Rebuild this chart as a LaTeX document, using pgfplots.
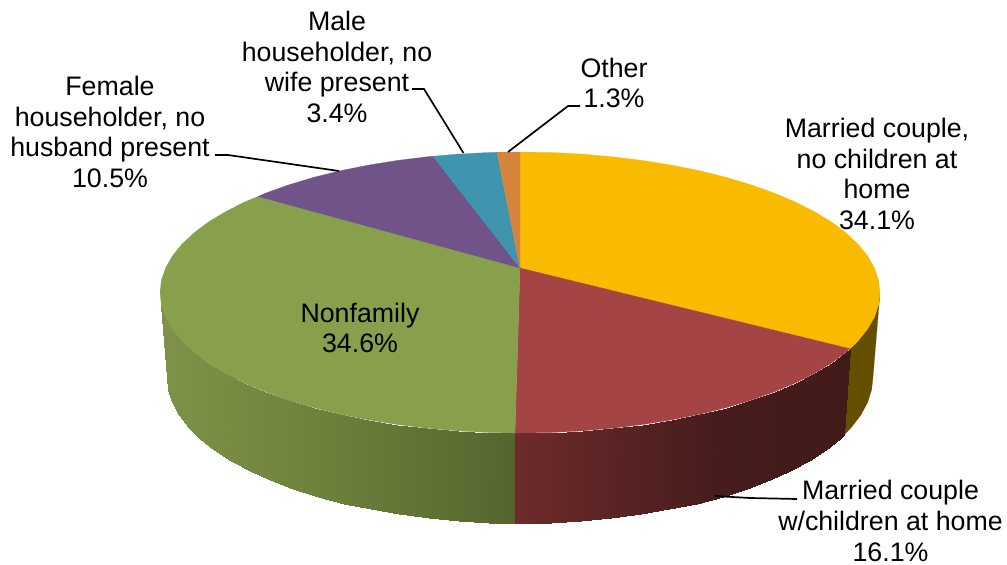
\documentclass[border=0pt]{standalone}
\usepackage{fontspec}
\setmainfont{Liberation Sans}
\usepackage{pgfplots}
\pgfplotsset{compat=1.18}
\usepackage{pgfplotstable}
\definecolor{cy}{RGB}{248,187,0}
\definecolor{cr}{RGB}{165,68,68}
\definecolor{cg}{RGB}{136,159,76}
\definecolor{cp}{RGB}{111,83,137}
\definecolor{ct}{RGB}{63,148,174}
\definecolor{co}{RGB}{214,132,60}
\definecolor{cyw}{RGB}{100,78,0}
\pgfplotsset{colormap={wall}{rgb255(160pt)=(127,146,72); rgb255(300pt)=(112,132,62); rgb255(515pt)=(84,102,46); rgb255(516pt)=(110,43,43); rgb255(720pt)=(70,28,28); rgb255(860pt)=(66,26,26)}}
\pgfplotstableread{
x y
515 433
520 433
551.4 432.5
582.5 430.9
613.2 428.2
643.1 424.5
672.1 419.8
700 414.2
726.5 407.6
751.4 400.1
774.6 391.8
795.8 382.8
814.9 373.1
831.8 362.8
846.3 351.9
850 348.7
515 523
520 523
550.8 522.5
581.3 520.8
611.4 518
640.7 514.2
669.1 509.3
696.5 503.5
722.5 496.6
746.9 488.8
769.7 480.2
790.4 470.8
809.2 460.8
825.7 450
840 438.7
843.6 435.4
}\redwall
\pgfplotstableread{
x y
160 292.5
161.4 304.7
165.5 316.9
172.3 328.9
181.7 340.6
193.7 351.9
208.2 362.8
225.1 373.1
244.2 382.8
265.4 391.8
288.6 400.1
313.5 407.6
340 414.2
367.9 419.8
396.9 424.5
426.8 428.2
457.5 430.9
488.6 432.5
515 433
167 377
168.4 389.7
172.4 402.4
179 414.8
188.3 427
200 438.7
214.3 450
230.8 460.8
249.6 470.8
270.3 480.2
293.1 488.8
317.5 496.6
343.5 503.5
370.9 509.3
399.3 514.2
428.6 518
458.7 520.8
489.2 522.5
515 523
}\greenwall
\begin{document}
\begin{tikzpicture}
\useasboundingbox (0,0) rectangle (1007pt,565pt);
\begin{axis}[at={(0,0)},anchor=south west,scale only axis,width=1007pt,height=565pt,
  xmin=0,xmax=1007,ymin=0,ymax=565,y dir=reverse,hide axis,clip=false,
  colormap name=wall,point meta min=160,point meta max=860,
  nodes={font=\fontsize{26.75}{30.7}\selectfont,align=center,text=black}]
% side walls
\addplot[fill=cyw,draw=cyw,line width=0.2pt] coordinates {(880,292.5)(878.6,304.7)(874.5,316.9)(867.7,328.9)(858.3,340.6)(850,348.7)(843.6,435.4)(851.7,427)(861,414.8)(867.6,402.4)(871.6,389.7)(873,377)} --cycle;
\addplot[surf,shader=interp,mesh/rows=2,point meta={x}] table[x=x,y=y] {\greenwall};
\addplot[surf,shader=interp,mesh/rows=2,point meta={x+1}] table[x=x,y=y] {\redwall};
% top face
\addplot[fill=cy,draw=cy,line width=0.2pt] coordinates {(520,268)(520,152)(551.4,152.5)(582.5,154.1)(613.2,156.8)(643.1,160.5)(672.1,165.2)(700,170.8)(726.5,177.4)(751.4,184.9)(774.6,193.2)(795.8,202.2)(814.9,211.9)(831.8,222.2)(846.3,233.1)(858.3,244.4)(867.7,256.1)(874.5,268.1)(878.6,280.3)(880,292.5)(878.6,304.7)(874.5,316.9)(867.7,328.9)(858.3,340.6)(850,348.7)} --cycle;
\addplot[fill=cr,draw=cr,line width=0.2pt] coordinates {(520,268)(850,348.7)(846.3,351.9)(831.8,362.8)(814.9,373.1)(795.8,382.8)(774.6,391.8)(751.4,400.1)(726.5,407.6)(700,414.2)(672.1,419.8)(643.1,424.5)(613.2,428.2)(582.5,430.9)(551.4,432.5)(520,433)(515,433)} --cycle;
\addplot[fill=cg,draw=cg,line width=0.2pt] coordinates {(520,268)(515,433)(488.6,432.5)(457.5,430.9)(426.8,428.2)(396.9,424.5)(367.9,419.8)(340,414.2)(313.5,407.6)(288.6,400.1)(265.4,391.8)(244.2,382.8)(225.1,373.1)(208.2,362.8)(193.7,351.9)(181.7,340.6)(172.3,328.9)(165.5,316.9)(161.4,304.7)(160,292.5)(161.4,280.3)(165.5,268.1)(172.3,256.1)(181.7,244.4)(193.7,233.1)(208.2,222.2)(225.1,211.9)(244.2,202.2)(258,196.5)} --cycle;
\addplot[fill=cp,draw=cp,line width=0.2pt] coordinates {(520,268)(258,196.5)(265.4,193.2)(288.6,184.9)(313.5,177.4)(340,170.8)(367.9,165.2)(396.9,160.5)(426.8,156.8)(433,156.2)} --cycle;
\addplot[fill=ct,draw=ct,line width=0.2pt] coordinates {(520,268)(433,156.2)(457.5,154.1)(488.6,152.5)(497,152.2)} --cycle;
\addplot[fill=co,draw=co,line width=0.2pt] coordinates {(520,268)(497,152.2)(520,152)} --cycle;
% leader lines
\addplot[black,line width=1.7pt] coordinates {(412,89)(424,89)(463.5,153)};
\addplot[black,line width=1.7pt] coordinates {(580,106)(568,106)(508,152)};
\addplot[black,line width=1.7pt] coordinates {(215,155)(228,155)(339,171)};
\addplot[black,line width=1.7pt] coordinates {(797,499)(750,498)(715,496)};
% labels
\node at (axis cs:337,67) {Male\\householder, no\\wife present\\3.4\%};
\node at (axis cs:110,132) {Female\\householder, no\\husband present\\10.5\%};
\node at (axis cs:614,83) {Other\\1.3\%};
\node at (axis cs:877,174) {Married couple,\\no children at\\home\\34.1\%};
\node at (axis cs:360,328) {Nonfamily\\34.6\%};
\node at (axis cs:890.5,521) {Married couple\\w/children at home\\16.1\%};
\end{axis}
\end{tikzpicture}
\end{document}
